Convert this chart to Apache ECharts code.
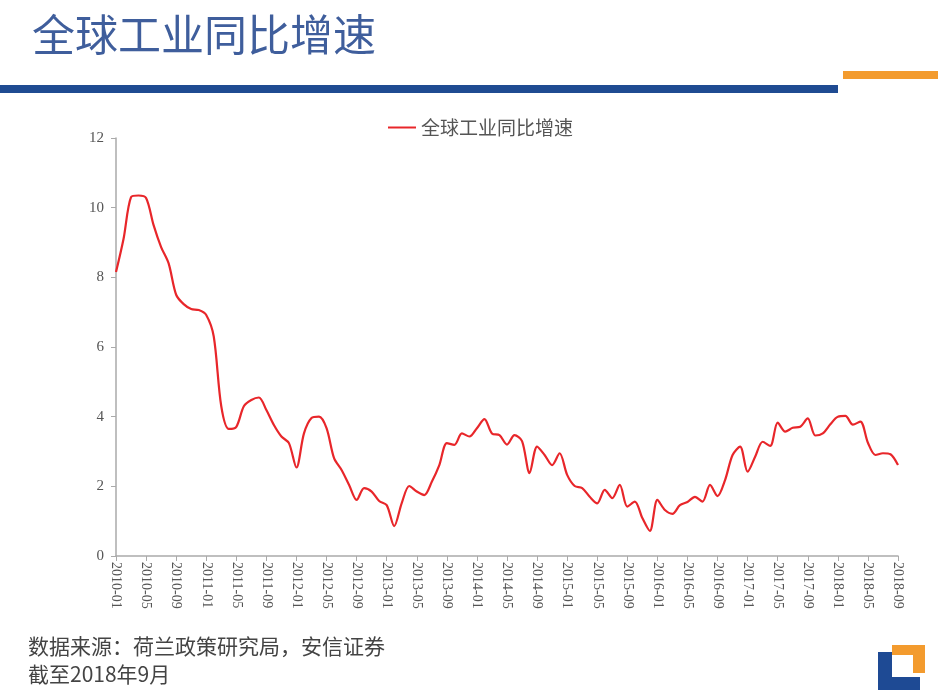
<!DOCTYPE html>
<html>
<head>
<meta charset="utf-8">
<script src="https://cdn.jsdelivr.net/npm/echarts@6/dist/echarts.min.js"></script>
<style>
html,body{margin:0;padding:0;background:#fff;}
#c{width:938px;height:700px;}
</style>
</head>
<body>
<div id="c"></div>
<script>
const titleText = '全球工业同比增速';
const seriesName = '全球工业同比增速';
const sourceText = '数据来源：荷兰政策研究局，安信证券';
const asOfText = '截至2018年9月';
const yTicks = [0, 2, 4, 6, 8, 10, 12];

// months 2010-01 .. 2018-09
const months = [];
for (let y = 2010; y <= 2018; y++) {
  for (let m = 1; m <= 12; m++) {
    if (y === 2018 && m > 9) break;
    months.push(y + '-' + (m < 10 ? '0' + m : '' + m));
  }
}

const values = [
  8.15, 9.1, 10.3, 10.35, 10.28, 9.5, 8.87, 8.4, 7.5, 7.23, 7.09, 7.06,
  6.92, 6.3, 4.3, 3.65, 3.71, 4.3, 4.48, 4.55, 4.19, 3.76, 3.43, 3.24,
  2.54, 3.52, 3.96, 4.0, 3.67, 2.81, 2.47, 2.04, 1.61, 1.95, 1.85, 1.58,
  1.46, 0.86, 1.52, 2.01, 1.85, 1.75, 2.13, 2.61, 3.24, 3.19, 3.52, 3.43,
  3.67, 3.93, 3.52, 3.47, 3.2, 3.47, 3.3, 2.38, 3.14, 2.9, 2.61, 2.95,
  2.33, 2.01, 1.95, 1.7, 1.51, 1.9, 1.66, 2.04, 1.42, 1.56, 1.09, 0.72,
  1.61, 1.32, 1.21, 1.46, 1.55, 1.7, 1.56, 2.04, 1.72, 2.18, 2.9, 3.14,
  2.42, 2.85, 3.28, 3.16, 3.83, 3.57, 3.68, 3.71, 3.95, 3.46, 3.52, 3.78,
  4.0, 4.02, 3.77, 3.86, 3.25, 2.9, 2.95, 2.92, 2.61
];

const chart = echarts.init(document.getElementById('c'), null, {renderer: 'canvas'});
chart.setOption({
  backgroundColor: '#ffffff',
  animation: false,
  graphic: [
    {type: 'text', left: 32, top: 13, style: {text: titleText, fill: '#3f5e9c', font: '43px "Noto Sans CJK SC"'}},
    {type: 'rect', shape: {x: 0, y: 85, width: 838, height: 8}, style: {fill: '#1f4b92'}},
    {type: 'rect', shape: {x: 843, y: 71, width: 95, height: 8}, style: {fill: '#f39b2e'}},
    {type: 'text', left: 28, top: 636, style: {text: sourceText, fill: '#444', font: '21px "Noto Sans CJK SC"'}},
    {type: 'text', left: 28, top: 664, style: {text: asOfText, fill: '#444', font: '21px "Noto Sans CJK SC"'}},
    {type: 'rect', shape: {x: 878, y: 652, width: 14, height: 38}, style: {fill: '#1e4a94'}},
    {type: 'rect', shape: {x: 878, y: 677, width: 42, height: 13}, style: {fill: '#1e4a94'}},
    {type: 'rect', shape: {x: 892, y: 645, width: 33, height: 10}, style: {fill: '#f39b2e'}},
    {type: 'rect', shape: {x: 913, y: 645, width: 12, height: 28}, style: {fill: '#f39b2e'}}
  ],
  legend: {
    top: 113,
    left: 383,
    itemWidth: 28,
    itemHeight: 10,
    itemGap: 5,
    textStyle: {color: '#555', fontSize: 19, fontFamily: '"Noto Sans CJK SC"'},
    data: [{name: seriesName, icon: 'path://M0,4L28,4L28,6L0,6Z'}]
  },
  grid: {left: 116, right: 40, top: 138, bottom: 144, containLabel: false},
  xAxis: {
    type: 'category',
    data: months,
    boundaryGap: false,
    axisLine: {lineStyle: {color: '#aaa', width: 1.5}},
    axisTick: {interval: 3, length: 5, lineStyle: {color: '#aaa'}},
    axisLabel: {interval: 3, rotate: -90, color: '#555', fontSize: 14, fontFamily: '"Liberation Serif"', margin: 6}
  },
  yAxis: {
    type: 'value',
    min: yTicks[0],
    max: yTicks[yTicks.length - 1],
    interval: 2,
    axisLine: {show: true, lineStyle: {color: '#aaa', width: 1.5}},
    axisTick: {show: true, length: 5, lineStyle: {color: '#aaa'}},
    splitLine: {show: false},
    axisLabel: {color: '#555', fontSize: 15, fontFamily: '"Liberation Serif"', margin: 12}
  },
  series: [{
    name: seriesName,
    type: 'line',
    data: values,
    smooth: 0.3,
    symbol: 'none',
    lineStyle: {color: '#e8262a', width: 2.2},
    itemStyle: {color: '#e8262a'}
  }]
});
</script>
</body>
</html>
